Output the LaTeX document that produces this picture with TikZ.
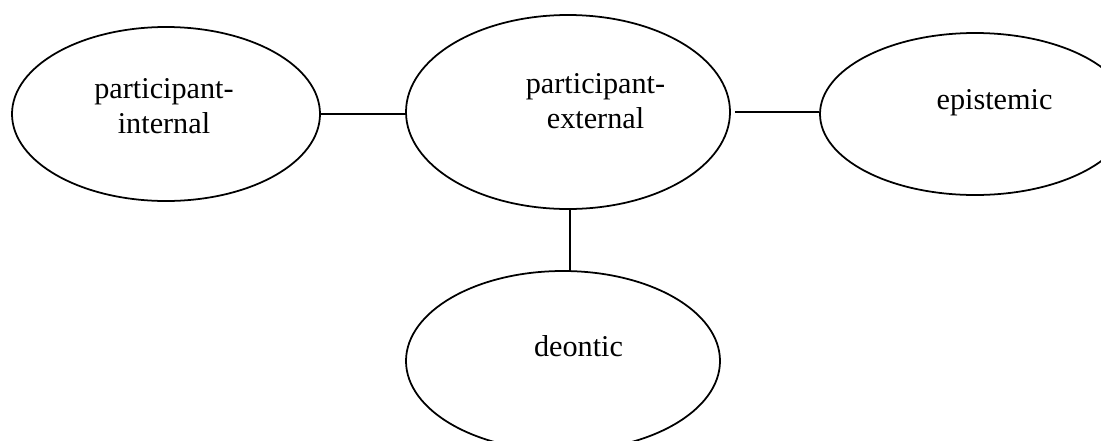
\documentclass[tikz,border=0pt]{standalone}
\usepackage{fontspec}
\setmainfont{Liberation Serif}
\usetikzlibrary{shapes.geometric}
\begin{document}
\begin{tikzpicture}[x=0.03cm,y=-0.03cm,
  oval/.style={draw,ellipse,line width=1.5pt,inner sep=0pt},
  lbl/.style={font=\fontsize{25.8pt}{26.2pt}\selectfont,align=center,inner sep=0pt,anchor=base},
  link/.style={line width=1.5pt}]
\useasboundingbox (0,0) rectangle (1101,440);
\begin{scope}
\clip (0,0) rectangle (1101,440);
\node[oval,minimum width=308*0.03cm,minimum height=174*0.03cm] (pi) at (166,114) {};
\node[oval,minimum width=324*0.03cm,minimum height=194*0.03cm] (pe) at (568,112) {};
\node[oval,minimum width=310*0.03cm,minimum height=162*0.03cm] (ep) at (975,114) {};
\node[oval,minimum width=314*0.03cm,minimum height=180*0.03cm] (de) at (563,361) {};
\end{scope}
\node[lbl] (tpi) at (164,133) {participant-\\[3.4pt]internal};
\node[lbl] (tpe) at (595.5,128) {participant-\\[3.4pt]external};
\node[lbl] (tep) at (994.5,109) {epistemic};
\node[lbl] (tde) at (578.5,356) {deontic};
\draw[link] (pi.east) -- (pi.east -| pe.west);
\draw[link] ([xshift=4*0.03cm]pe.east |- 0,112) -- (ep.west |- 0,112);
\draw[link] (pe.south -| 570,0) -- (de.north -| 570,0);
\end{tikzpicture}
\end{document}
